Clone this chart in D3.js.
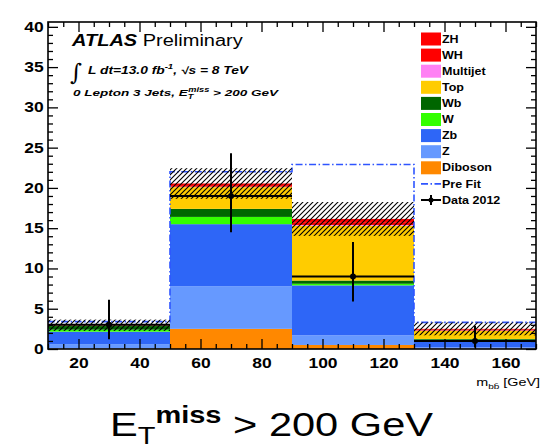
<!DOCTYPE html>
<html><head><meta charset="utf-8">
<script src="https://cdn.jsdelivr.net/npm/d3@7"></script>
<style>html,body{margin:0;padding:0;background:#fff;}svg{display:block;}</style>
</head><body>
<script>
// ---------------- data ----------------
const binLow  = [10, 50, 90, 130];
const binHigh = [50, 90, 130, 170];
const seriesNames  = ["Diboson", "Z", "Zb", "W", "Wb", "Top", "Multijet", "WH", "ZH"]; // bottom -> top
const seriesColors = ["#ff8800", "#6699ff", "#2e66f7", "#33ff00", "#006600", "#ffcc00", "#ff80f4", "#ff0000", "#ff0000"];
const diboson  = [0.05, 2.5, 0.5, 0.05];
const zLight   = [0.55, 5.3, 1.2, 0.15];
const zb       = [1.55, 7.7, 6.2, 0.9];
const wJets    = [0.25, 0.9, 0.2, 0.05];
const wb       = [0.45, 1.0, 0.4, 0.1];
const topQ     = [0.05, 2.7, 6.8, 1.0];
const multijet = [0.0, 0.05, 0.1, 0.05];
const wh       = [0.02, 0.2, 0.35, 0.1];
const zh       = [0.03, 0.2, 0.4, 0.1];
const bkgUnc   = [0.7, 1.9, 2.1, 0.8];
const preFit   = [3.4, 22.0, 22.9, 3.3];
const dataVal  = [3, 19, 9, 1];
const dataErrLo = [1.8, 4.5, 3.1, 0.8];
const dataErrHi = [3.1, 5.3, 4.3, 1.9];
const xMajorTicks = [20, 40, 60, 80, 100, 120, 140, 160];
const yMajorTicks = [0, 5, 10, 15, 20, 25, 30, 35, 40];
const legendLabels = ["ZH", "WH", "Multijet", "Top", "Wb", "W", "Zb", "Z", "Diboson", "Pre Fit", "Data 2012"];
const legendColors = ["#ff0000", "#ff0000", "#ff80f4", "#ffcc00", "#006600", "#33ff00", "#2e66f7", "#6699ff", "#ff8800"];

// ---------------- layout ----------------
const W = 544, H = 448;
const L = 48, R = 536, T = 22, B = 349;
const SX = 1.25; // horizontal text stretch of the original
const svg = d3.select("body").append("svg").attr("width", W).attr("height", H)
  .style("font-family", "'Liberation Sans', Arial, Helvetica, sans-serif");

const x = d3.scaleLinear().domain([10, 170]).range([L, R]);
const y = d3.scaleLinear().domain([0, 40.6]).range([B, T]);

const defs = svg.append("defs");
const pat = defs.append("pattern").attr("id", "hatch").attr("patternUnits", "userSpaceOnUse")
  .attr("width", 5).attr("height", 5);
pat.append("path").attr("d", "M-1,6 L6,-1 M4,6 L6,4 M-1,1 L1,-1")
  .attr("stroke", "#000").attr("stroke-width", 1.1);
defs.append("clipPath").attr("id", "plotclip").append("rect")
  .attr("x", L).attr("y", T).attr("width", R - L).attr("height", B - T);

// ---------------- stack ----------------
const seriesArrays = [diboson, zLight, zb, wJets, wb, topQ, multijet, wh, zh];
const rows = binLow.map((lo, i) => {
  const r = {lo: lo, hi: binHigh[i]};
  seriesNames.forEach((n, k) => r[n] = seriesArrays[k][i]);
  return r;
});
const stacked = d3.stack().keys(seriesNames)(rows);
const plot = svg.append("g").attr("clip-path", "url(#plotclip)");
stacked.forEach((layer, k) => {
  plot.append("g").attr("fill", seriesColors[k]).selectAll("rect").data(layer).join("rect")
    .attr("x", d => x(d.data.lo)).attr("width", d => x(d.data.hi) - x(d.data.lo))
    .attr("y", d => y(d[1])).attr("height", d => Math.max(0, y(d[0]) - y(d[1])));
});
const totals = rows.map((r, i) => d3.sum(seriesArrays, a => a[i]));

// pre-fit step line
const stepPts = [];
preFit.forEach((v, i) => { stepPts.push([binLow[i], v]); stepPts.push([binHigh[i], v]); });
stepPts.unshift([binLow[0], 0]);
stepPts.push([binHigh[binHigh.length - 1], 0]);
plot.append("path").datum(stepPts)
  .attr("d", d3.line().x(d => x(d[0])).y(d => y(d[1])))
  .attr("fill", "none").attr("stroke", "#2f55ff").attr("stroke-width", 1.6)
  .attr("stroke-dasharray", "7,2.5,1.5,2.5");

// uncertainty band
plot.append("g").selectAll("rect").data(totals).join("rect")
  .attr("x", (d, i) => x(binLow[i])).attr("width", (d, i) => x(binHigh[i]) - x(binLow[i]))
  .attr("y", (d, i) => y(d + bkgUnc[i])).attr("height", (d, i) => y(d - bkgUnc[i]) - y(d + bkgUnc[i]))
  .attr("fill", "url(#hatch)");

// data points
const dg = plot.append("g").attr("stroke", "#000").attr("stroke-width", 2);
dataVal.forEach((v, i) => {
  const cx = x((binLow[i] + binHigh[i]) / 2);
  dg.append("line").attr("x1", x(binLow[i])).attr("x2", x(binHigh[i])).attr("y1", y(v)).attr("y2", y(v));
  dg.append("line").attr("x1", cx).attr("x2", cx).attr("y1", y(v - dataErrLo[i])).attr("y2", y(v + dataErrHi[i]));
  dg.append("circle").attr("cx", cx).attr("cy", y(v)).attr("r", 3).attr("fill", "#000").attr("stroke", "none");
});

// ---------------- axes ----------------
function styleAxis(g) { g.select(".domain").remove(); g.selectAll("line").attr("stroke", "#000").attr("stroke-width", 1.3); }
const xMinor = d3.range(10, 171, 5).filter(v => v % 20 !== 0);
const yMinor = d3.range(0, 41, 1).filter(v => v % 5 !== 0);
// bottom
const gxb = svg.append("g").attr("transform", `translate(0,${B})`)
  .call(d3.axisBottom(x).tickValues(xMajorTicks).tickSize(-10).tickSizeOuter(0).tickPadding(9).tickFormat(d3.format("d")));
styleAxis(gxb);
gxb.selectAll("text").attr("font-size", 14).attr("font-weight", "bold").attr("fill", "#000")
  .attr("transform", `scale(${SX},1)`).attr("font-family", "'Liberation Sans', Arial, sans-serif");
svg.append("g").attr("transform", `translate(0,${B})`)
  .call(d3.axisBottom(x).tickValues(xMinor).tickSize(-5).tickSizeOuter(0).tickFormat("")).call(styleAxis);
// top
svg.append("g").attr("transform", `translate(0,${T})`)
  .call(d3.axisTop(x).tickValues(xMajorTicks).tickSize(-10).tickSizeOuter(0).tickFormat("")).call(styleAxis);
svg.append("g").attr("transform", `translate(0,${T})`)
  .call(d3.axisTop(x).tickValues(xMinor).tickSize(-5).tickSizeOuter(0).tickFormat("")).call(styleAxis);
// left
const gyl = svg.append("g").attr("transform", `translate(${L},0)`)
  .call(d3.axisLeft(y).tickValues(yMajorTicks).tickSize(-10).tickSizeOuter(0).tickPadding(3.5));
styleAxis(gyl);
gyl.selectAll("text").attr("font-size", 14).attr("font-weight", "bold").attr("fill", "#000")
  .attr("transform", `scale(${SX},1)`).attr("font-family", "'Liberation Sans', Arial, sans-serif");
svg.append("g").attr("transform", `translate(${L},0)`)
  .call(d3.axisLeft(y).tickValues(yMinor).tickSize(-5).tickSizeOuter(0).tickFormat("")).call(styleAxis);
// right
svg.append("g").attr("transform", `translate(${R},0)`)
  .call(d3.axisRight(y).tickValues(yMajorTicks).tickSize(-10).tickSizeOuter(0).tickFormat("")).call(styleAxis);
svg.append("g").attr("transform", `translate(${R},0)`)
  .call(d3.axisRight(y).tickValues(yMinor).tickSize(-5).tickSizeOuter(0).tickFormat("")).call(styleAxis);
// frame
svg.append("rect").attr("x", L).attr("y", T).attr("width", R - L).attr("height", B - T)
  .attr("fill", "none").attr("stroke", "#000").attr("stroke-width", 1.6);

// ---------------- texts ----------------
function stretchedText(px, py, anchor) {
  return svg.append("text").attr("transform", `translate(${px},${py}) scale(${SX},1)`)
    .attr("text-anchor", anchor || "start").attr("fill", "#000");
}
// ATLAS Preliminary
const t1 = stretchedText(72, 46);
t1.append("tspan").text("ATLAS").attr("font-size", 16).attr("font-weight", "bold").attr("font-style", "italic");
t1.append("tspan").text(" Preliminary").attr("font-size", 16);
// integral
svg.append("text").attr("x", 70).attr("y", 80).attr("font-size", 23).attr("font-family", "'DejaVu Serif', serif")
  .attr("font-style", "italic").text("\u222B");
const t2 = stretchedText(88, 74).attr("font-size", 10).attr("font-weight", "bold").attr("font-style", "italic")
  .attr("textLength", 128).attr("lengthAdjust", "spacingAndGlyphs");
t2.append("tspan").text("L dt=13.0 fb");
t2.append("tspan").text("-1").attr("font-size", 7).attr("dy", -5);
t2.append("tspan").text(",  \u221As = 8 TeV").attr("dy", 5);
const t3 = stretchedText(73, 96).attr("font-size", 9.5).attr("font-weight", "bold").attr("font-style", "italic")
  .attr("textLength", 164).attr("lengthAdjust", "spacingAndGlyphs");
t3.append("tspan").text("0 Lepton 3 Jets, E");
t3.append("tspan").text("T").attr("font-size", 6.5).attr("dy", 2.5);
t3.append("tspan").text("miss").attr("font-size", 6.5).attr("dy", -7).attr("dx", -3.5);
t3.append("tspan").text(" > 200 GeV").attr("dy", 4.5);

// x-axis title
const tx = stretchedText(540, 386, "end").attr("font-size", 11.5);
tx.append("tspan").text("m");
tx.append("tspan").text("bb\u0304").attr("font-size", 8).attr("dy", 3);
tx.append("tspan").text(" [GeV]").attr("dy", -3);

// big title
const tt = svg.append("text").attr("x", 110).attr("y", 436).attr("fill", "#000")
  .attr("textLength", 323).attr("lengthAdjust", "spacingAndGlyphs")
  .attr("font-family", "'Liberation Sans', Arial, sans-serif");
tt.append("tspan").text("E").attr("font-size", 33);
tt.append("tspan").text("T").attr("font-size", 23).attr("dy", 8);
tt.append("tspan").text("miss").attr("font-size", 23).attr("dy", -21).attr("font-weight", "bold");
tt.append("tspan").text(" > 200 GeV").attr("font-size", 33).attr("dy", 13);

// ---------------- legend ----------------
const lg = svg.append("g");
const ly0 = 39, ldy = 16.1, lx = 421;
legendLabels.forEach((lab, i) => {
  const cy = ly0 + i * ldy;
  if (i < legendColors.length) {
    lg.append("rect").attr("x", lx).attr("y", cy - 6.5).attr("width", 20).attr("height", 13).attr("fill", legendColors[i]);
  } else if (lab === "Pre Fit") {
    lg.append("line").attr("x1", lx).attr("x2", lx + 20).attr("y1", cy).attr("y2", cy)
      .attr("stroke", "#2f55ff").attr("stroke-width", 1.6).attr("stroke-dasharray", "7,2.5,1.5,2.5");
  } else {
    lg.append("line").attr("x1", lx).attr("x2", lx + 20).attr("y1", cy).attr("y2", cy).attr("stroke", "#000").attr("stroke-width", 2);
    lg.append("line").attr("x1", lx + 10).attr("x2", lx + 10).attr("y1", cy - 5).attr("y2", cy + 5).attr("stroke", "#000").attr("stroke-width", 2);
    lg.append("circle").attr("cx", lx + 10).attr("cy", cy).attr("r", 2.5).attr("fill", "#000");
  }
  lg.append("text").attr("transform", `translate(${lx + 21},${cy + 3.6}) scale(${SX},1)`)
    .attr("font-size", 10).attr("font-weight", "bold").attr("fill", "#000").text(lab);
});
</script>
</body></html>
